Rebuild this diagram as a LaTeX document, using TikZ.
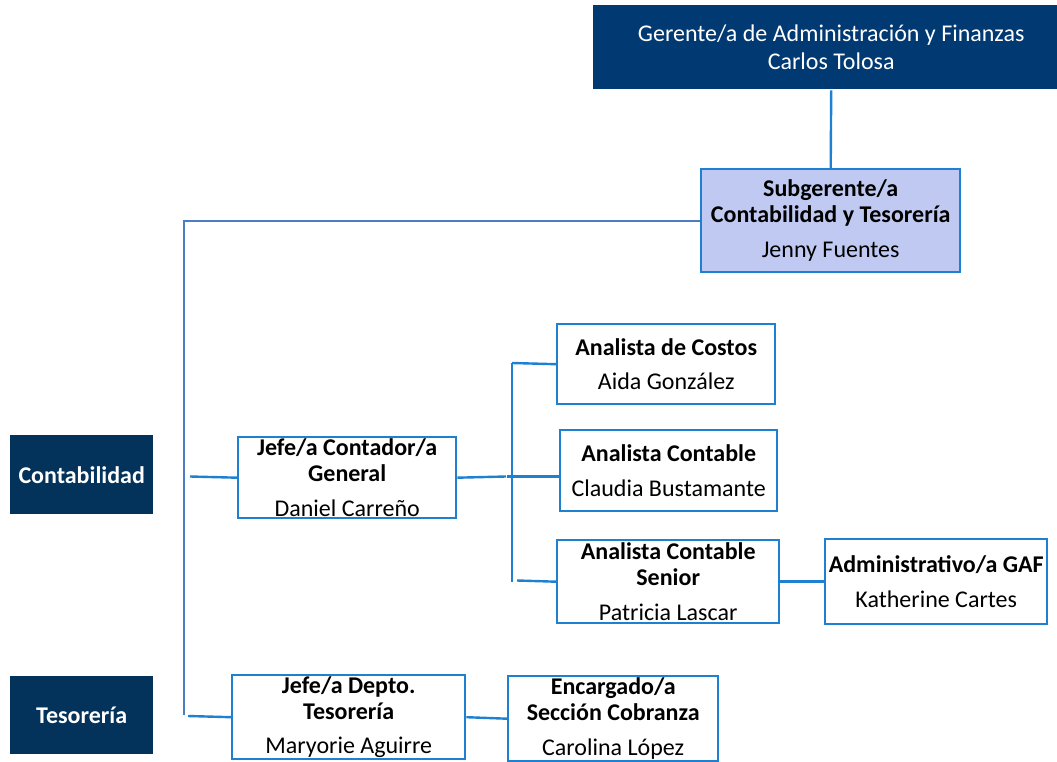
\documentclass[tikz,border=0pt]{standalone}
\usepackage{fontspec}
\setmainfont{Carlito}
\usepackage{tikz}
\definecolor{azulgaf}{RGB}{1,58,114}
\definecolor{azularea}{RGB}{3,50,90}
\definecolor{borde}{RGB}{30,128,208}
\definecolor{lila}{RGB}{191,201,242}
\definecolor{tronco}{RGB}{75,125,195}
\newcommand{\cargo}[7][]{  % 1 extra style, 1 name, 2 x-y, 2 size, 1 text
        \node[cargo, #1,
            minimum width=#5*0.75pt, minimum height=#6*0.75pt
            ] (#2) at (#3, #4) {#7};
}

\begin{document}
\begin{tikzpicture}[x=0.75pt, y=-0.75pt,
    cargo/.style={draw=borde, line width=1.8pt, fill=white, anchor=north west,
        inner sep=0pt, align=center, font=\fontsize{18}{19.5}\selectfont},
    area/.style={draw=none, fill=azularea, text=white},
    linea/.style={borde, line width=1.8pt}]
		\useasboundingbox (0,0) rectangle (1057,762);
		\cargo[draw=none, fill=azulgaf, text=white]{gaf}{592}{4}{476}{84}{Gerente/a de Administración y Finanzas\\[2pt]Carlos Tolosa}
		\cargo[fill=lila]{subg}{700}{168}{259}{103}{\textbf{Subgerente/a}\\\textbf{Contabilidad y Tesorería}\\[6.5pt]Jenny Fuentes}
		\cargo[area]{cont}{9}{434}{143}{79}{\textbf{Contabilidad}}
		\cargo[area]{tes}{9}{675}{143}{78}{\textbf{Tesorería}}
		\cargo{jefcont}{237}{436}{218}{81}{\textbf{Jefe/a Contador/a}\\\textbf{General}\\[6.5pt]Daniel Carreño}
		\cargo{jeftes}{231}{674}{233}{84}{\textbf{Jefe/a Depto.}\\\textbf{Tesorería}\\[6.5pt]Maryorie Aguirre}
		\cargo{costos}{556}{323}{218}{80}{\textbf{Analista de Costos}\\[6.5pt]Aida González}
		\cargo{contable}{559}{429}{217}{81}{\textbf{Analista Contable}\\[6.5pt]Claudia Bustamante}
		\cargo{senior}{556}{539}{222}{83}{\textbf{Analista Contable}\\\textbf{Senior}\\[6.5pt]Patricia Lascar}
		\cargo{admin}{824}{538}{222}{85}{\textbf{Administrativo/a GAF}\\[6.5pt]Katherine Cartes}
		\cargo{encarg}{507}{675}{210}{85}{\textbf{Encargado/a}\\\textbf{Sección Cobranza}\\[6.5pt]Carolina López}
		% tronco de la subgerencia
		\coordinate (t-bot) at (184,715);
		\coordinate (c-st) at (190,476.5);
		\coordinate (t-st) at (188,716);
		\draw[linea] (gaf.south) -- (subg.north);
		\draw[tronco, line width=1.4pt] (subg.west) -| (t-bot);
		\draw[linea] (c-st) -- (jefcont.west);
		\draw[linea] (t-st) -- (jeftes.west);
		% ramas de contabilidad
		\coordinate (jc-e) at (506,476.5);
		\coordinate (r-top) at (512,363);
		\coordinate (r-bot) at (512,582);
		\coordinate (r-mid) at (507,476.5);
		\coordinate (r-sen) at (517,580.5);
		\draw[linea] (jefcont.east) -- (jc-e);
		\draw[linea] (r-top) -- (r-bot);
		\draw[linea] (r-top) -- (costos.west);
		\draw[linea] (r-mid) -- (contable.west |- r-mid);
		\draw[linea] (r-sen) -- (senior.west);
		\draw[linea] (senior.east) -- (admin.west);
		\draw[linea] (jeftes.east) -- (encarg.west);
\end{tikzpicture}
\end{document}
